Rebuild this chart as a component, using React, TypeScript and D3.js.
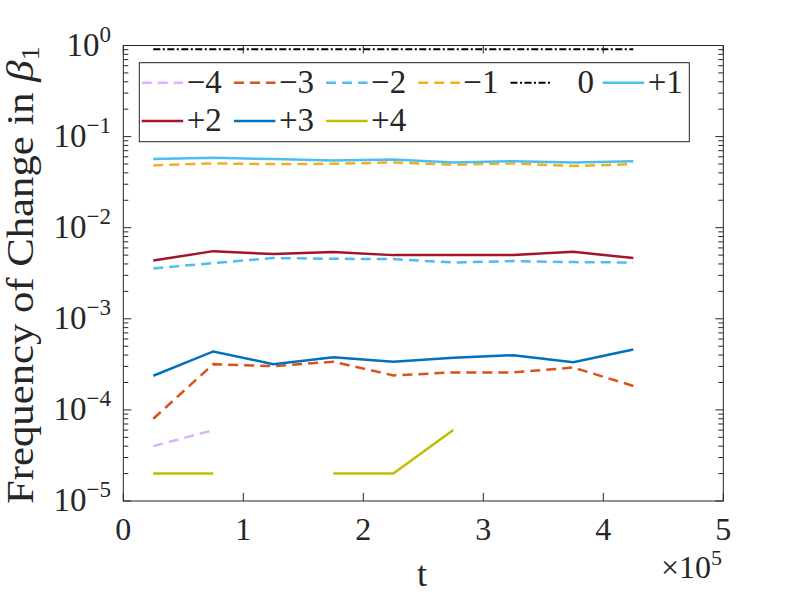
import React from "react";
import * as d3 from "d3";

const tVals = [25000, 75000, 125000, 175000, 225000, 275000, 325000, 375000, 425000];

const freqM4 = [4e-5, 6e-5, null, null, null, null, null, null, null];
const freqM3 = [8e-5, 3.18e-4, 3.02e-4, 3.38e-4, 2.39e-4, 2.58e-4, 2.58e-4, 2.92e-4, 1.83e-4];
const freqM2 = [3.57e-3, 4.09e-3, 4.64e-3, 4.56e-3, 4.52e-3, 4.15e-3, 4.3e-3, 4.19e-3, 4.15e-3];
const freqM1 = [0.0483, 0.0508, 0.0499, 0.0503, 0.0521, 0.049, 0.0508, 0.0475, 0.0499];
const freq0 = [0.908, 0.907, 0.908, 0.907, 0.908, 0.908, 0.907, 0.908, 0.908];
const freqP1 = [0.0566, 0.0585, 0.0566, 0.0548, 0.0562, 0.0521, 0.0538, 0.0521, 0.0538];
const freqP2 = [0.00436, 0.00553, 0.00513, 0.0054, 0.005, 0.00503, 0.00503, 0.00543, 0.00464];
const freqP3 = [0.000237, 0.000438, 0.000318, 0.000379, 0.000338, 0.000373, 0.000399, 0.000334, 0.000461];
const freqP4 = [2e-5, 2e-5, null, 2e-5, 2e-5, 6e-5, null, null, null];

const seriesLabels = ["−4", "−3", "−2", "−1", "0", "+1", "+2", "+3", "+4"];
const seriesValues = [freqM4, freqM3, freqM2, freqM1, freq0, freqP1, freqP2, freqP3, freqP4];
const seriesColors = ["#D9B3FF", "#D95319", "#4DBEEE", "#EDB120", "#000000", "#4DBEEE", "#A2142F", "#0072BD", "#BFBF00"];
const seriesDash = ["10,6", "10,6", "10,6", "10,6", "7,2.5,2,2.5", null, null, null, null];

const xTicks = [0, 100000, 200000, 300000, 400000, 500000];
const xTickLabels = ["0", "1", "2", "3", "4", "5"];
const yExps = [0, -1, -2, -3, -4, -5];

const W = 800;
const H = 600;
const left = 123.3;
const right = 723.3;
const top = 45.5;
const bottom = 501;
const axisColor = "#262626";
const font = "Liberation Serif, DejaVu Serif, Times New Roman, serif";

export default function App() {
  const x = d3.scaleLinear().domain([0, 500000]).range([left, right]);
  const y = d3.scaleLog().domain([1e-5, 1]).range([bottom, top]);

  const line = d3
    .line<[number, number | null]>()
    .defined((d) => d[1] !== null && (d[1] as number) > 0)
    .x((d) => x(d[0]))
    .y((d) => y(d[1] as number));

  const minorTicks: number[] = [];
  for (let e = -5; e < 0; e++) {
    for (let m = 2; m <= 9; m++) minorTicks.push(m * Math.pow(10, e));
  }

  const legLeft = 139.3;
  const legTop = 62.7;
  const legW = 550;
  const legH = 79;
  const colStart = 141.7;
  const colStep = 92.2;
  const sampleLen = 41.5;
  const rowY = [82.7, 121];
  const ts = { fontFamily: font } as React.CSSProperties;

  return (
    <div style={{ position: "absolute", left: 0, top: 0 }}>
      <svg width={W} height={H} viewBox={`0 0 ${W} ${H}`} style={{ display: "block", background: "#fff" }}>
        <rect x={0} y={0} width={W} height={H} fill="#fff" />
        <rect x={left} y={top} width={right - left} height={bottom - top} fill="#fff" />

        {seriesValues.map((vals, i) => (
          <path
            key={"s" + i}
            d={line(tVals.map((t, j) => [t, vals[j]] as [number, number | null])) || ""}
            fill="none"
            stroke={seriesColors[i]}
            strokeWidth={i === 4 ? 2 : 2.5}
            strokeDasharray={seriesDash[i] || undefined}
          />
        ))}

        <rect x={left} y={top} width={right - left} height={bottom - top} fill="none" stroke={axisColor} strokeWidth={1} />

        {xTicks.map((t, i) => (
          <g key={"xt" + i}>
            <line x1={x(t)} x2={x(t)} y1={bottom} y2={bottom - 8} stroke={axisColor} strokeWidth={1} />
            <line x1={x(t)} x2={x(t)} y1={top} y2={top + 8} stroke={axisColor} strokeWidth={1} />
            <text x={x(t)} y={540} textAnchor="middle" style={ts} fontSize={32} fill={axisColor}>
              {xTickLabels[i]}
            </text>
          </g>
        ))}

        {yExps.map((e) => {
          const yy = y(Math.pow(10, e));
          return (
            <g key={"yt" + e}>
              <line x1={left} x2={left + 8} y1={yy} y2={yy} stroke={axisColor} strokeWidth={1} />
              <line x1={right} x2={right - 8} y1={yy} y2={yy} stroke={axisColor} strokeWidth={1} />
              <text x={111} y={yy + 10} textAnchor="end" style={ts} fill={axisColor}>
                <tspan fontSize={33}>10</tspan>
                <tspan fontSize={23} dy={-14}>
                  {e === 0 ? "0" : "−" + String(-e)}
                </tspan>
              </text>
            </g>
          );
        })}

        {minorTicks.map((v, i) => {
          const yy = y(v);
          return (
            <g key={"ym" + i}>
              <line x1={left} x2={left + 5} y1={yy} y2={yy} stroke={axisColor} strokeWidth={1} />
              <line x1={right} x2={right - 5} y1={yy} y2={yy} stroke={axisColor} strokeWidth={1} />
            </g>
          );
        })}

        <text x={422} y={586} textAnchor="middle" style={ts} fontSize={36} fill={axisColor}>
          t
        </text>
        <text x={722} y={578} textAnchor="end" style={ts} fill={axisColor}>
          <tspan fontSize={32}>×10</tspan>
          <tspan fontSize={22} dy={-13}>
            5
          </tspan>
        </text>
        <text
          transform={`translate(33, 275) rotate(-90)`}
          x={0}
          y={0}
          textAnchor="middle"
          style={ts}
          fontSize={37}
          fill={axisColor}
          textLength={458}
          lengthAdjust="spacingAndGlyphs"
        >
          Frequency of Change in{" "}
          <tspan fontStyle="italic">β</tspan>
          <tspan fontSize={25} dy={6}>
            1
          </tspan>
        </text>

        <rect x={legLeft} y={legTop} width={legW} height={legH} fill="#fff" stroke={axisColor} strokeWidth={1} />
        {seriesLabels.map((lab, i) => {
          const row = i < 6 ? 0 : 1;
          const col = i < 6 ? i : i - 6;
          const sx = colStart + col * colStep;
          const sy = rowY[row];
          return (
            <g key={"lg" + i}>
              <line
                x1={sx}
                x2={sx + sampleLen}
                y1={sy}
                y2={sy}
                stroke={seriesColors[i]}
                strokeWidth={i === 4 ? 2 : 2.5}
                strokeDasharray={seriesDash[i] || undefined}
              />
              <text x={sx + (lab === "0" ? 67 : 45)} y={sy + 10} style={ts} fontSize={33} fill={axisColor}>
                {lab}
              </text>
            </g>
          );
        })}
      </svg>
    </div>
  );
}
